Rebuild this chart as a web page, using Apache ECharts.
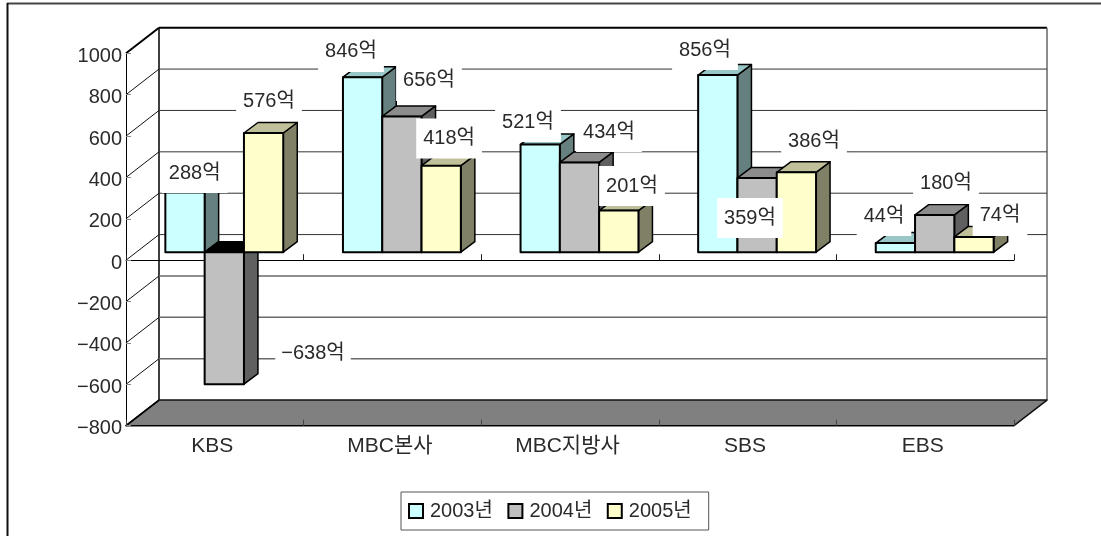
<!DOCTYPE html>
<html>
<head>
<meta charset="utf-8">
<script src="https://cdn.jsdelivr.net/npm/echarts@6/dist/echarts.min.js"></script>
<style>html,body{margin:0;padding:0;background:#fff}#c{width:1101px;height:536px}</style>
</head>
<body>
<div id="c"></div>
<script>
var categories = ['KBS', 'MBC본사', 'MBC지방사', 'SBS', 'EBS'];
var seriesNames = ['2003년', '2004년', '2005년'];
var values2003 = [288, 846, 521, 856, 44];
var values2004 = [-638, 656, 434, 359, 180];
var values2005 = [576, 418, 201, 386, 74];
var axisTicks = [1000, 800, 600, 400, 200, 0, -200, -400, -600, -800];

var allValues = [values2003, values2004, values2005];
var frontColors = ['#CCFFFF', '#C0C0C0', '#FFFFCC'];
var topColors = ['#99C6C6', '#8C8C8C', '#C0C09A'];
var sideColors = ['#668080', '#606060', '#808066'];

// label nudges relative to the value point of each bar
var nudge2003 = [[9.6, -27.6], [-11.7, -33.2], [-12.3, -30.4], [-12.9, -33.1], [-11.5, -35.1]];
var nudge2004 = [[88.2, -38.2], [26.6, -43.5], [29, -38.4], [-7.6, 32.1], [10.8, -39]];
var nudge2005 = [[4.5, -40], [7, -35.2], [12.3, -32.6], [16.7, -39.3], [25.1, -28.9]];
var nudges = [nudge2003, nudge2004, nudge2005];

var FONT = '"Liberation Sans","Noto Sans CJK KR",sans-serif';
var TEXT = '#2a2a2a';
var WALL_DX = 33, WALL_DY = -25.6;   // front plane to back wall
var BAR_DX = 9.5, BAR_DY = -8;       // front plane to bar fronts
var DEPTH_DX = 14, DEPTH_DY = -10.5; // bar depth
var BAR_FRACTION = 39.3 / 177.6;

function poly(points, fill, stroke, width) {
  return { type: 'polygon', shape: { points: points },
    style: { fill: fill, stroke: stroke || '#000', lineWidth: width == null ? 1.5 : width, lineJoin: 'round' } };
}
function seg(x1, y1, x2, y2, color, width) {
  return { type: 'line', shape: { x1: x1, y1: y1, x2: x2, y2: y2 },
    style: { stroke: color, lineWidth: width } };
}

function renderFrame(params, api) {
  var v = api.value(0);
  var cs = params.coordSys;
  var left = cs.x, right = cs.x + cs.width;
  var y = api.coord([0, v])[1];
  var bx = left + WALL_DX, by = y + WALL_DY, rx = right + WALL_DX;
  var kids = [];
  if (v === axisTicks[axisTicks.length - 1]) {
    kids.push(poly([[left, y], [bx, by], [rx, by], [right, y]], '#808080', '#111', 1.5));
    kids.push(seg(left, y, bx, by, '#000', 1.5));
  } else if (v === axisTicks[0]) {
    kids.push(seg(left, y, bx, by, '#000', 2));
    kids.push(seg(bx, by, rx, by, '#000', 2));
    var bottomY = api.coord([0, axisTicks[axisTicks.length - 1]])[1] + WALL_DY;
    kids.push(seg(bx, by, bx, bottomY, '#000', 1.5));
    kids.push(seg(rx, by, rx, bottomY, '#666', 1.5));
  } else {
    kids.push(seg(left, y, bx, by, '#111', 1));
    kids.push(seg(bx, by, rx, by, v < 0 ? '#6a6a6a' : '#333', v < 0 ? 1.5 : 1));
  }
  return { type: 'group', children: kids };
}

function makeBarRender(s) {
  return function (params, api) {
    var cat = api.value(0), val = api.value(1);
    var band = api.size([1, 0])[0];
    var w = band * BAR_FRACTION;
    var c = api.coord([cat, val]);
    var zero = api.coord([cat, 0])[1];
    var x0 = c[0] + BAR_DX + (s - 1.5) * w;
    var x1 = x0 + w;
    var yVal = c[1] + BAR_DY, yZero = zero + BAR_DY;
    var top = Math.min(yVal, yZero), bot = Math.max(yVal, yZero);
    var d = DEPTH_DX, e = DEPTH_DY;
    return { type: 'group', children: [
      poly([[x1, top], [x1 + d, top + e], [x1 + d, bot + e], [x1, bot]], sideColors[s]),
      poly([[x0, top], [x0 + d, top + e], [x1 + d, top + e], [x1, top]], val < 0 ? '#000' : topColors[s]),
      poly([[x0, top], [x1, top], [x1, bot], [x0, bot]], frontColors[s], '#000', 2)
    ] };
  };
}

function renderLabel(params, api) {
  var cat = api.value(0), val = api.value(1), s = api.value(2);
  var band = api.size([1, 0])[0];
  var w = band * 39.7 / 177.6;
  var c = api.coord([cat, val]);
  var n = nudges[s][cat];
  var x = c[0] + 10 + (s - 1) * w + n[0];
  var y = c[1] + n[1];
  return { type: 'text', style: {
    text: String(val).replace('-', '−') + '억', x: x, y: y,
    align: 'center', verticalAlign: 'middle',
    fontSize: 20, fontFamily: FONT, fill: TEXT, lineHeight: 20,
    backgroundColor: '#fff', padding: val < 0 ? [13, 6, 7, 6] : [13, 7, 7, 7]
  } };
}

var labelRows = [];
allValues.forEach(function (arr, s) {
  arr.forEach(function (v, i) { labelRows.push([i, v, s]); });
});

var series = [{
  type: 'custom', name: 'frame', coordinateSystem: 'cartesian2d', z: 1, silent: true,
  encode: { x: -1, y: 0 }, clip: false, renderItem: renderFrame,
  data: axisTicks.map(function (t) { return [t]; })
}];
seriesNames.forEach(function (name, s) {
  series.push({
    type: 'custom', name: name, coordinateSystem: 'cartesian2d', z: 3, clip: false,
    itemStyle: { color: frontColors[s] }, encode: { x: 0, y: 1 },
    renderItem: makeBarRender(s),
    data: allValues[s].map(function (v, i) { return [i, v]; })
  });
});
series.push({
  type: 'custom', name: 'labels', coordinateSystem: 'cartesian2d', z: 4, clip: false, silent: true,
  encode: { x: 0, y: 1 }, renderItem: renderLabel, data: labelRows
});

var chart = echarts.init(document.getElementById('c'), null, { renderer: 'canvas' });
chart.setOption({
  animation: false,
  backgroundColor: '#fff',
  textStyle: { fontFamily: FONT },
  graphic: [
    { type: 'line', shape: { x1: 7, y1: 3.5, x2: 1101, y2: 3.5 }, style: { stroke: '#444', lineWidth: 2 } },
    { type: 'line', shape: { x1: 7.5, y1: 3, x2: 7.5, y2: 536 }, style: { stroke: '#111', lineWidth: 2 } }
  ],
  grid: { left: 126, top: 53.3, width: 888, height: 372.4, containLabel: false },
  legend: {
    left: 401, top: 492, orient: 'horizontal',
    data: seriesNames, icon: 'rect', itemWidth: 14, itemHeight: 14, itemGap: 14.5,
    padding: [9, 17, 9, 7], borderColor: '#555', borderWidth: 1, backgroundColor: '#fff',
    itemStyle: { borderColor: '#000', borderWidth: 2 },
    textStyle: { fontSize: 20, fontFamily: FONT, color: TEXT, padding: [2, 0, 0, 2] }
  },
  xAxis: [{
    type: 'category', data: categories, position: 'bottom', z: 2,
    axisLine: { onZero: true, lineStyle: { color: '#000', width: 1 } },
    axisTick: { show: true, inside: true, length: 6, lineStyle: { color: '#222', width: 1 } },
    axisLabel: { show: false }, splitLine: { show: false }
  }, {
    type: 'category', data: categories, position: 'bottom', z: 2,
    axisLine: { onZero: false, lineStyle: { color: '#000', width: 1 } },
    axisTick: { show: true, inside: true, length: 6, lineStyle: { color: '#444', width: 1 } },
    axisLabel: { fontSize: 21, fontFamily: FONT, color: TEXT, margin: 10, padding: [0, 5, 0, 0] },
    splitLine: { show: false }
  }],
  yAxis: {
    type: 'value', min: -800, max: 1000, interval: 200, z: 2,
    axisLine: { show: true, onZero: false, lineStyle: { color: '#000', width: 1 } },
    axisTick: { show: true, inside: true, length: 5, lineStyle: { color: '#888', width: 1 } },
    axisLabel: {
      fontSize: 20, fontFamily: FONT, color: TEXT, margin: 4, verticalAlign: 'top', padding: [-7, 0, 0, 0],
      formatter: function (v) { return String(v).replace('-', '−'); }
    },
    splitLine: { show: false }
  },
  series: series
});
</script>
</body>
</html>
